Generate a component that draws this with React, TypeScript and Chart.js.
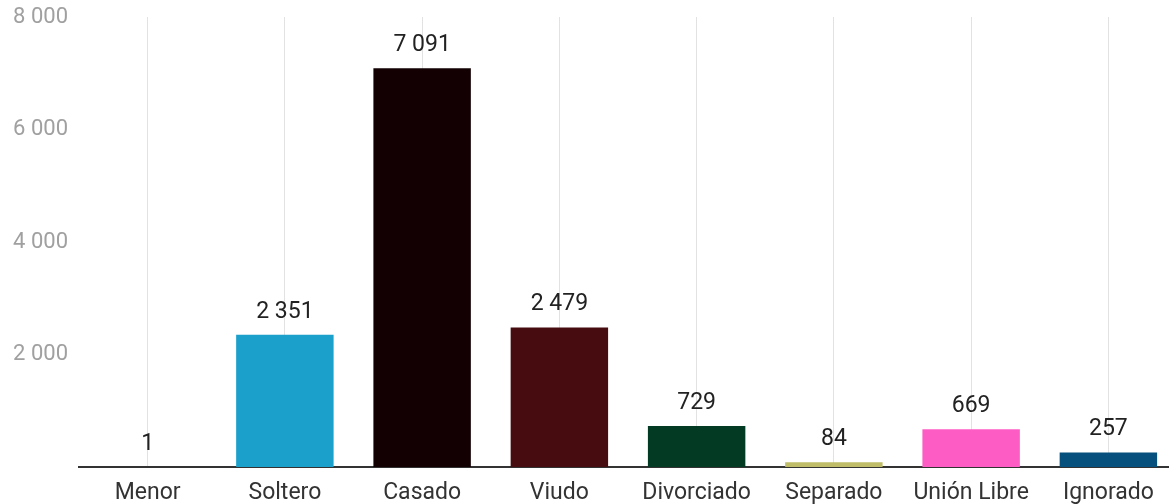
import React, { useEffect, useRef } from "react";
import { Chart, registerables } from "chart.js";

Chart.register(...registerables);

const categories = ["Menor", "Soltero", "Casado", "Viudo", "Divorciado", "Separado", "Unión Libre", "Ignorado"];
const values = [1, 2351, 7091, 2479, 729, 84, 669, 257];
const barColors = ["#7f7f7f", "#1aa0cb", "#120002", "#470c10", "#033a23", "#bfbd68", "#fd5cc4", "#05507c"];
const yTicks = [0, 2000, 4000, 6000, 8000];

const fmt = (v: number) => String(Math.round(v)).replace(/\B(?=(\d{3})+(?!\d))/g, " ");

const FONT = "Roboto, 'Noto Sans', sans-serif";

const valueLabels = {
  id: "valueLabels",
  afterDatasetsDraw(chart: any) {
    const ctx = chart.ctx;
    const meta = chart.getDatasetMeta(0);
    ctx.save();
    ctx.font = `23px ${FONT}`;
    ctx.fillStyle = "#222222";
    ctx.textAlign = "center";
    ctx.textBaseline = "middle";
    meta.data.forEach((el: any, i: number) => {
      ctx.fillText(fmt(values[i]), el.x, el.y - 23);
    });
    ctx.restore();
  },
};

export default function App() {
  const ref = useRef<HTMLCanvasElement>(null);
  useEffect(() => {
    if (!ref.current) return;
    const chart = new Chart(ref.current, {
      type: "bar",
      data: {
        labels: categories,
        datasets: [
          {
            data: values,
            backgroundColor: barColors,
            borderWidth: 0,
            barPercentage: 0.71,
            categoryPercentage: 1,
          },
        ],
      },
      options: {
        animation: false,
        responsive: false,
        maintainAspectRatio: false,
        layout: { padding: { top: 17, left: 0, right: 0, bottom: 0 } },
        plugins: { legend: { display: false }, tooltip: { enabled: false } },
        scales: {
          x: {
            grid: { display: true, offset: false, color: "#e2e2e2", lineWidth: 1, drawTicks: false },
            border: { display: true, color: "#333333", width: 2 },
            ticks: { color: "#333333", font: { family: FONT, size: 23 }, padding: 12, maxRotation: 0, autoSkip: false },
            afterFit: (s: any) => {
              s.height = 37;
              s.paddingLeft = 0;
              s.paddingRight = 0;
            },
          },
          y: {
            min: 0,
            max: 8000,
            afterBuildTicks: (s: any) => {
              s.ticks = yTicks.map((v) => ({ value: v }));
            },
            grid: { display: false, drawTicks: false },
            border: { display: false },
            ticks: {
              color: "#a0a0a0",
              font: { family: FONT, size: 22 },
              padding: 11,
              callback: (v: any) => (Number(v) === 0 ? "" : fmt(Number(v))),
            },
            afterFit: (s: any) => {
              s.width = 79;
              s.paddingTop = 0;
              s.paddingBottom = 0;
            },
          },
        },
      },
      plugins: [valueLabels],
    });
    return () => chart.destroy();
  }, []);
  return (
    <div style={{ position: "fixed", left: 0, top: 0, width: 1177, height: 504, background: "#ffffff" }}>
      <canvas ref={ref} width={1177} height={504} style={{ display: "block", width: 1177, height: 504 }} />
    </div>
  );
}
